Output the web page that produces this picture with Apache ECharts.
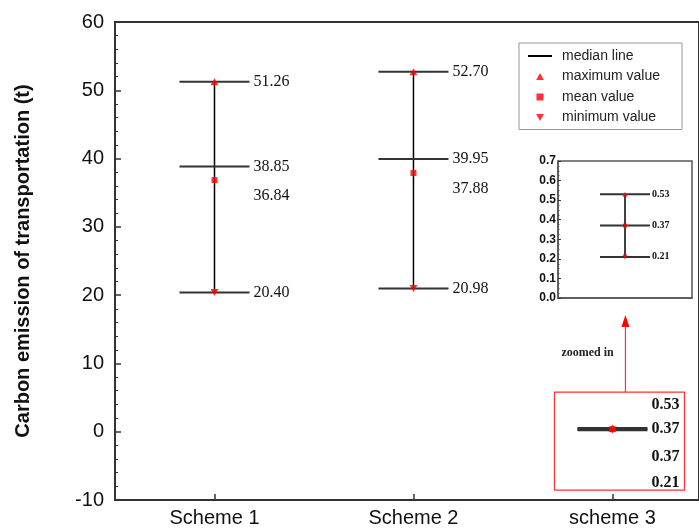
<!DOCTYPE html>
<html>
<head>
<meta charset="utf-8">
<script src="https://cdn.jsdelivr.net/npm/echarts@6/dist/echarts.min.js"></script>
<style>
  html, body { margin: 0; padding: 0; background: #fff; }
  #chart { width: 699px; height: 532px; }
</style>
</head>
<body>
<div id="chart"></div>
<script>
// data
const categories = ["Scheme 1", "Scheme 2", "scheme 3"];
const maxVals = [51.26, 52.70, 0.53];
const medianVals = [38.85, 39.95, 0.37];
const meanVals = [36.84, 37.88, 0.37];
const minVals = [20.40, 20.98, 0.21];
const yTicks = [-10, 0, 10, 20, 30, 40, 50, 60];
const insetTicks = [0, 0.1, 0.2, 0.3, 0.4, 0.5, 0.6, 0.7];

// label shifts (px) for max / median / mean / min, so they do not overlap
const labelShift = [
  [0, 0, 16, 0],
  [0, 0, 16, 0],
  [-23, 0, 28, 53]
];

const upTri = "path://M5,0L10,9L0,9Z";
const downTri = "path://M0,0L10,0L5,9Z";
const square = "path://M0,0h10v10h-10z";
const lineIcon = "path://M0,0h24v2h-24z";

const catIdx = categories.map((c, i) => i);
const boxData = categories.map((c, i) => [i, minVals[i], medianVals[i], meanVals[i], maxVals[i]]);

function whiskers(halfW, labelDx, fontSize, inset) {
  return function (params, api) {
    const x = api.value(0);
    const pMin = api.coord([x, api.value(1)]);
    const pMed = api.coord([x, api.value(2)]);
    const pMean = api.coord([x, api.value(3)]);
    const pMax = api.coord([x, api.value(4)]);
    const hl = (p) => ({
      type: "line",
      shape: { x1: p[0] - halfW, y1: p[1], x2: p[0] + halfW, y2: p[1] },
      style: { stroke: "#333", lineWidth: 2 }
    });
    const children = [
      {
        type: "line",
        shape: { x1: pMax[0], y1: pMax[1], x2: pMin[0], y2: pMin[1] },
        style: { stroke: "#000", lineWidth: 1.5 }
      },
      hl(pMax), hl(pMed), hl(pMin)
    ];
    const shift = inset ? [0, 0, 0, 0] : labelShift[params.dataIndex];
    const bold = inset || params.dataIndex === 2;
    const pts = [[pMax, 4], [pMed, 2], [pMean, 3], [pMin, 1]];
    pts.forEach((pp, k) => {
      if (inset && k === 2) return;
      children.push({
        type: "text",
        x: pp[0][0] + labelDx,
        y: pp[0][1] + shift[k],
        style: {
          text: api.value(pp[1]).toFixed(2),
          font: (bold ? "bold " : "") + fontSize + "px 'Liberation Serif'",
          fill: "#111",
          verticalAlign: "middle",
          align: "left"
        }
      });
    });
    return { type: "group", children: children };
  };
}

const chart = echarts.init(document.getElementById("chart"));

chart.setOption({
  animation: false,
  backgroundColor: "#fff",
  legend: {
    orient: "vertical",
    left: 519,
    top: 43,
    backgroundColor: "#fff",
    borderColor: "#999",
    borderWidth: 1,
    padding: [5, 22, 4, 9],
    itemWidth: 24,
    itemHeight: 7,
    itemGap: 4.5,
    textStyle: { fontFamily: "Liberation Sans", fontSize: 14, color: "#222", lineHeight: 16, padding: [0, 0, 0, 5] },
    data: [
      { name: "median line", icon: lineIcon },
      { name: "maximum value", icon: upTri },
      { name: "mean value", icon: square },
      { name: "minimum value", icon: downTri }
    ]
  },
  grid: [
    { left: 115, top: 22, right: 0, bottom: 32, show: true, borderColor: "#333", borderWidth: 2 },
    { left: 558, top: 161, width: 134, height: 137, show: true, borderColor: "#555", borderWidth: 1.5, backgroundColor: "#fff" }
  ],
  xAxis: [
    {
      // category positions on a value scale; the right part of the frame is cut off like in the figure
      type: "value",
      gridIndex: 0,
      min: -0.5,
      max: 2.435,
      axisLine: { onZero: false, lineStyle: { color: "#333", width: 2 } },
      axisTick: { show: true, inside: true, length: 6, customValues: catIdx, lineStyle: { color: "#333", width: 1.5 } },
      axisLabel: {
        fontFamily: "Liberation Sans", fontSize: 20, color: "#111", margin: 8,
        customValues: catIdx, formatter: (v) => categories[v]
      },
      splitLine: { show: false }
    },
    {
      type: "category",
      gridIndex: 1,
      data: [categories[2]],
      axisLine: { onZero: false, lineStyle: { color: "#555", width: 1.5 } },
      axisTick: { inside: true, alignWithLabel: true, length: 3, lineStyle: { color: "#333" } },
      axisLabel: { show: false }
    }
  ],
  yAxis: [
    {
      type: "value",
      gridIndex: 0,
      min: yTicks[0],
      max: yTicks[yTicks.length - 1],
      interval: 10,
      name: "Carbon emission of transportation (t)",
      nameLocation: "middle",
      nameGap: 82,
      nameTextStyle: { fontFamily: "Liberation Sans", fontSize: 20, fontWeight: "bold", color: "#111" },
      axisLine: { show: true, onZero: false, lineStyle: { color: "#333", width: 2 } },
      axisTick: { show: true, inside: true, length: 6, lineStyle: { color: "#333", width: 1.5 } },
      minorTick: { show: true, splitNumber: 5, length: 3, lineStyle: { color: "#333" } },
      splitLine: { show: false },
      axisLabel: { fontFamily: "Liberation Sans", fontSize: 20, color: "#111", margin: 11 }
    },
    {
      type: "value",
      gridIndex: 1,
      min: insetTicks[0],
      max: insetTicks[insetTicks.length - 1],
      interval: 0.1,
      axisLine: { show: true, onZero: false, lineStyle: { color: "#555", width: 1.5 } },
      axisTick: { show: true, inside: true, length: 3, lineStyle: { color: "#333" } },
      minorTick: { show: true, splitNumber: 4, length: 1.5, lineStyle: { color: "#555" } },
      splitLine: { show: false },
      axisLabel: {
        fontFamily: "Liberation Sans", fontSize: 12, fontWeight: "bold", color: "#111", margin: 2,
        formatter: (v) => v.toFixed(1)
      }
    }
  ],
  series: [
    {
      name: "median line",
      type: "custom",
      xAxisIndex: 0, yAxisIndex: 0,
      itemStyle: { color: "#000" },
      renderItem: whiskers(35, 39, 16, false),
      data: boxData,
      z: 2
    },
    {
      name: "maximum value", type: "scatter", xAxisIndex: 0, yAxisIndex: 0,
      symbol: upTri, symbolSize: [8, 7], itemStyle: { color: "#f00" },
      data: categories.map((c, i) => [i, maxVals[i]]), z: 3
    },
    {
      name: "mean value", type: "scatter", xAxisIndex: 0, yAxisIndex: 0,
      symbol: square, symbolSize: 6, itemStyle: { color: "#f00" },
      data: categories.map((c, i) => [i, meanVals[i]]), z: 3
    },
    {
      name: "minimum value", type: "scatter", xAxisIndex: 0, yAxisIndex: 0,
      symbol: downTri, symbolSize: [8, 7], itemStyle: { color: "#f00" },
      data: categories.map((c, i) => [i, minVals[i]]), z: 3
    },
    // zoomed-in view of scheme 3
    {
      name: "median line",
      type: "custom",
      xAxisIndex: 1, yAxisIndex: 1,
      itemStyle: { color: "#000" },
      renderItem: whiskers(25, 27, 10, true),
      data: [[0, minVals[2], medianVals[2], meanVals[2], maxVals[2]]],
      z: 4
    },
    {
      name: "maximum value", type: "scatter", xAxisIndex: 1, yAxisIndex: 1,
      symbol: upTri, symbolSize: [5, 5], itemStyle: { color: "#f00" },
      data: [[0, maxVals[2]]], z: 5
    },
    {
      name: "mean value", type: "scatter", xAxisIndex: 1, yAxisIndex: 1,
      symbol: square, symbolSize: 4, itemStyle: { color: "#f00" },
      data: [[0, meanVals[2]]], z: 5
    },
    {
      name: "minimum value", type: "scatter", xAxisIndex: 1, yAxisIndex: 1,
      symbol: downTri, symbolSize: [5, 5], itemStyle: { color: "#f00" },
      data: [[0, minVals[2]]], z: 5
    }
  ]
});

// red "zoomed in" box and arrow, placed from the scheme 3 point
const c = chart.convertToPixel({ xAxisIndex: 0, yAxisIndex: 0 }, [2, medianVals[2]]);
const insetBottom = chart.convertToPixel({ xAxisIndex: 1, yAxisIndex: 1 }, [0, 0])[1];
const ax = c[0] + 13;
const boxTop = c[1] - 37;
const tipY = insetBottom + 17;
chart.setOption({
  graphic: [
    {
      type: "rect",
      shape: { x: c[0] - 58, y: boxTop, width: 130, height: 98 },
      style: { fill: null, stroke: "#f33", lineWidth: 1.2 },
      z: 10
    },
    {
      type: "line",
      shape: { x1: ax, y1: boxTop, x2: ax, y2: tipY + 10 },
      style: { stroke: "#f33", lineWidth: 1.2 },
      z: 10
    },
    {
      type: "polygon",
      shape: { points: [[ax, tipY], [ax - 4, tipY + 12], [ax + 4, tipY + 12]] },
      style: { fill: "#f00" },
      z: 10
    },
    {
      type: "text",
      x: c[0] - 51,
      y: (boxTop + tipY) / 2 - 1,
      style: { text: "zoomed in", font: "bold 12px 'Liberation Serif'", fill: "#222", verticalAlign: "middle" },
      z: 10
    }
  ]
});
</script>
</body>
</html>
